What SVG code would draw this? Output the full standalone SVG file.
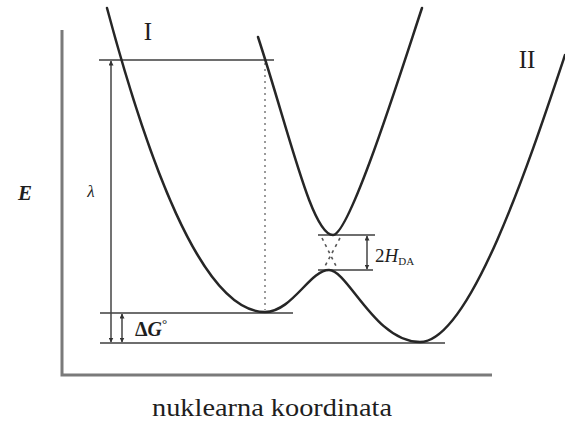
<svg xmlns="http://www.w3.org/2000/svg" width="565" height="423" viewBox="0 0 565 423">
<style>
.axis{stroke:#7a7a7a;stroke-width:3;fill:none}
.ref{stroke:#6e6e6e;stroke-width:2;fill:none}
.curve{stroke:#262626;stroke-width:2.5;fill:none;stroke-linecap:round}
.dot{stroke:#9a9a9a;stroke-width:2;stroke-dasharray:2,4;fill:none}
.dash{stroke:#555;stroke-width:1.6;stroke-dasharray:3,4;fill:none}
.arr{stroke:#444;stroke-width:1.5;fill:none}
.t{font-family:'Liberation Serif','Times New Roman','DejaVu Serif',serif;fill:#1e1e1e}
</style>
<defs>
<marker id="ah" viewBox="0 0 10 10" refX="9" refY="5" markerWidth="5" markerHeight="5" orient="auto-start-reverse" markerUnits="userSpaceOnUse">
<path d="M0,0 L10,5 L0,10 z" fill="#333"/>
</marker>
</defs>
<rect width="565" height="423" fill="#fff"/>
<g id="axes">
<path class="axis" d="M62,30 V375 H492"/>
</g>
<g id="levels">
<line class="ref" x1="99" y1="60" x2="274" y2="60"/>
<line class="ref" x1="100" y1="313" x2="293" y2="313"/>
<line class="ref" x1="100" y1="343" x2="445" y2="343"/>
<line class="ref" x1="318" y1="235" x2="375" y2="235"/>
<line class="ref" x1="318" y1="270" x2="373" y2="270"/>
<line class="dot" x1="265" y1="63" x2="265" y2="310"/>
</g>
<g id="curves">
<path class="curve" d="M107,8 C145,150 200,312 265,312 C292,312 310,270 329,270 C348,270 375,342 420,342 C470,342 530,160 565,55"/>
<path class="curve" d="M258,37 C290,135 312,235 333,235 C350,235 403,65 422,8"/>
<line class="dash" x1="322" y1="238" x2="337" y2="268"/>
<line class="dash" x1="340" y1="238" x2="324" y2="268"/>
</g>
<g id="connectors">
<line class="arr" x1="111" y1="61" x2="111" y2="342" marker-start="url(#ah)" marker-end="url(#ah)"/>
<line class="arr" x1="122" y1="314" x2="122" y2="342" marker-start="url(#ah)" marker-end="url(#ah)"/>
<line class="arr" x1="367" y1="236" x2="367" y2="269" marker-start="url(#ah)" marker-end="url(#ah)"/>
</g>
<g id="labels">
<text class="t" x="148" y="40" font-size="25" text-anchor="middle">I</text>
<text class="t" x="527" y="68" font-size="25" text-anchor="middle">II</text>
<text class="t" x="25" y="200" font-size="21" font-weight="bold" font-style="italic" text-anchor="middle">E</text>
<text class="t" x="91" y="197" font-size="17" font-style="italic" text-anchor="middle">λ</text>
<text class="t" x="135" y="336" font-size="20" font-weight="bold">Δ<tspan font-style="italic">G</tspan><tspan font-size="13" dy="-8">°</tspan></text>
<text class="t" x="375" y="262" font-size="19">2<tspan font-style="italic">H</tspan><tspan font-size="11" dy="3">DA</tspan></text>
<text class="t" x="152" y="416" font-size="25" textLength="240" lengthAdjust="spacingAndGlyphs">nuklearna koordinata</text>
</g>
</svg>
